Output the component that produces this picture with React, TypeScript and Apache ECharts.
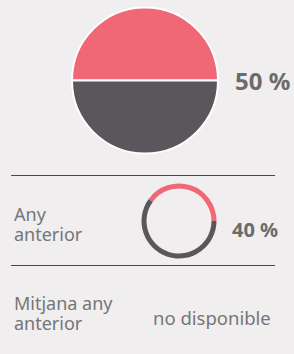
import React, { useEffect, useRef } from "react";
import * as echarts from "echarts";

const mainNames = ["Sí", "No"];
const mainValues = [50, 50];
const prevValues = [40, 60];
const mainLabel = "50 %";
const prevLabel = "40 %";
const prevTitle = ["Any", "anterior"];
const avgTitle = ["Mitjana any", "anterior"];
const avgValue = "no disponible";

const PINK = "#f06776";
const DARK = "#5b565b";
const FONT = "'Noto Sans', 'Open Sans', sans-serif";

export default function App() {
  const ref = useRef<HTMLDivElement>(null);
  useEffect(() => {
    if (!ref.current) return;
    const chart = echarts.init(ref.current, null, { renderer: "svg" });
    const labelStyle = (text: string, x: number, y: number, extra: any = {}) => ({
      type: "text",
      x,
      y,
      silent: true,
      style: {
        text,
        fill: "#767676",
        fontSize: 18,
        lineHeight: 20,
        fontFamily: FONT,
        verticalAlign: "middle",
        align: "left",
        ...extra,
      },
    });
    chart.setOption({
      animation: false,
      backgroundColor: "#f0eeef",
      series: [
        {
          type: "pie",
          center: [145, 80.5],
          radius: [0, 73],
          startAngle: 180,
          clockwise: true,
          label: { show: false },
          labelLine: { show: false },
          silent: true,
          itemStyle: { borderColor: "#ffffff", borderWidth: 2 },
          data: mainValues.map((v, i) => ({
            name: mainNames[i],
            value: v,
            itemStyle: { color: i === 0 ? PINK : DARK },
          })),
        },
        {
          type: "pie",
          center: [179, 221],
          radius: [32.5, 37.5],
          startAngle: 144,
          clockwise: true,
          label: { show: false },
          labelLine: { show: false },
          silent: true,
          data: prevValues.map((v, i) => ({
            name: mainNames[i],
            value: v,
            itemStyle: { color: i === 0 ? PINK : DARK },
          })),
        },
      ],
      graphic: [
        {
          type: "line",
          silent: true,
          shape: { x1: 11, y1: 175.5, x2: 275, y2: 175.5 },
          style: { stroke: "#4b464a", lineWidth: 1 },
        },
        {
          type: "line",
          silent: true,
          shape: { x1: 11, y1: 265.5, x2: 275, y2: 265.5 },
          style: { stroke: "#4b464a", lineWidth: 1 },
        },
        labelStyle(mainLabel, 235, 80, { fill: "#6b6b6b", fontWeight: "bold", fontSize: 24, lineHeight: 24 }),
        labelStyle(prevLabel, 232, 229, { fill: "#6b6b6b", fontWeight: "bold", fontSize: 20, lineHeight: 20 }),
        labelStyle(prevTitle.join("\n"), 14, 223.5),
        labelStyle(avgTitle.join("\n"), 14, 312.5),
        labelStyle(avgValue, 153, 317, { fontSize: 18.5 }),
      ],
    });
    return () => chart.dispose();
  }, []);
  return (
    <div
      ref={ref}
      style={{ position: "fixed", left: 0, top: 0, width: 294, height: 354 }}
    />
  );
}
